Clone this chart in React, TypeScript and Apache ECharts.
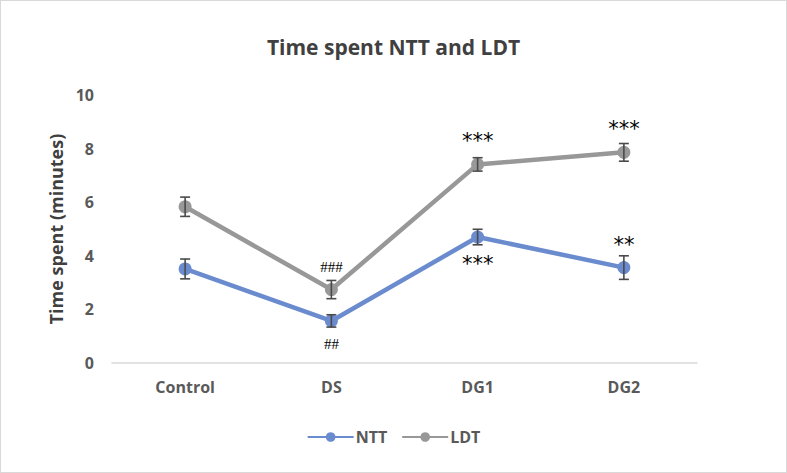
import React, { useEffect, useRef } from "react";
import * as echarts from "echarts";

const categories = ["Control", "DS", "DG1", "DG2"];
const nttValues = [3.51, 1.57, 4.7, 3.56];
const nttErrors = [0.37, 0.23, 0.29, 0.44];
const ldtValues = [5.83, 2.74, 7.41, 7.86];
const ldtErrors = [0.36, 0.34, 0.25, 0.33];
const nttMarks = ["", "##", "***", "**"];
const nttMarkSide = ["", "bottom", "bottom", "top"];
const ldtMarks = ["", "###", "***", "***"];
const ldtMarkSide = ["", "top", "top", "top"];
const yTicks = [0, 2, 4, 6, 8, 10];

const NTT_COLOR = "#6b8bcf";
const LDT_COLOR = "#989898";
const ERR_COLOR = "#4a4a4a";
const TEXT_COLOR = "#595959";
const FONT = "'Open Sans', 'Liberation Sans', sans-serif";

function buildData(values: number[], marks: string[], sides: string[]) {
  return values.map((v, i) => {
    if (!marks[i]) return { value: v };
    const isStar = marks[i].indexOf("*") >= 0;
    return {
      value: v,
      label: {
        show: true,
        position: sides[i],
        distance: isStar ? (sides[i] === "top" ? 6 : 10) : 9,
        formatter: marks[i],
        fontFamily: isStar ? "'DejaVu Sans', sans-serif" : "'Liberation Serif', serif",
        fontSize: isStar ? 21 : 15,
        color: "#000",
      },
    };
  });
}

function errorSeries(values: number[], errors: number[]) {
  return {
    type: "custom",
    z: 5,
    silent: true,
    data: values.map((v, i) => [i, v - errors[i], v + errors[i]]),
    renderItem: (params: any, api: any) => {
      const lo = api.coord([api.value(0), api.value(1)]);
      const hi = api.coord([api.value(0), api.value(2)]);
      const w = 5;
      const style = { stroke: ERR_COLOR, lineWidth: 1.6 };
      return {
        type: "group",
        children: [
          { type: "line", shape: { x1: lo[0], y1: lo[1], x2: hi[0], y2: hi[1] }, style },
          { type: "line", shape: { x1: lo[0] - w, y1: lo[1], x2: lo[0] + w, y2: lo[1] }, style },
          { type: "line", shape: { x1: hi[0] - w, y1: hi[1], x2: hi[0] + w, y2: hi[1] }, style },
        ],
      };
    },
  };
}

export default function App() {
  const ref = useRef<HTMLDivElement>(null);
  useEffect(() => {
    document.body.style.margin = "0";
    const chart = echarts.init(ref.current!, null, { renderer: "svg" });
    chart.setOption({
      animation: false,
      backgroundColor: "#fff",
      title: {
        text: "Time spent NTT and LDT",
        left: "center",
        top: 30,
        textStyle: { fontFamily: FONT, fontSize: 21, fontWeight: "bold", color: "#404040" },
      },
      legend: {
        bottom: 22,
        left: "center",
        itemWidth: 46,
        itemHeight: 12,
        itemGap: 14,
        data: ["NTT", "LDT"],
        textStyle: { fontFamily: FONT, fontSize: 16, fontWeight: "bold", color: TEXT_COLOR, padding: [0, 0, 0, -3] },
      },
      grid: { left: 111, right: 89, top: 94, bottom: 109 },
      xAxis: {
        type: "category",
        data: categories,
        axisLine: { lineStyle: { color: "#d9d9d9", width: 1.5 } },
        axisTick: { show: false },
        axisLabel: { fontFamily: FONT, fontSize: 16, fontWeight: "bold", color: TEXT_COLOR, margin: 16 },
      },
      yAxis: {
        type: "value",
        min: yTicks[0],
        max: yTicks[yTicks.length - 1],
        interval: 2,
        name: "Time spent (minutes)",
        nameLocation: "middle",
        nameGap: 46,
        nameTextStyle: { fontFamily: FONT, fontSize: 18, fontWeight: "bold", color: "#404040" },
        axisLine: { show: false },
        axisTick: { show: false },
        splitLine: { show: false },
        axisLabel: { fontFamily: FONT, fontSize: 16, fontWeight: "bold", color: TEXT_COLOR, margin: 18 },
      },
      series: [
        {
          name: "NTT",
          type: "line",
          data: buildData(nttValues, nttMarks, nttMarkSide),
          symbol: "circle",
          symbolSize: 13,
          lineStyle: { color: NTT_COLOR, width: 4.5 },
          itemStyle: { color: NTT_COLOR },
          z: 3,
        },
        {
          name: "LDT",
          type: "line",
          data: buildData(ldtValues, ldtMarks, ldtMarkSide),
          symbol: "circle",
          symbolSize: 13,
          lineStyle: { color: LDT_COLOR, width: 4.5 },
          itemStyle: { color: LDT_COLOR },
          z: 3,
        },
        errorSeries(nttValues, nttErrors),
        errorSeries(ldtValues, ldtErrors),
      ],
    });
    return () => chart.dispose();
  }, []);
  return (
    <div
      ref={ref}
      style={{ width: 785, height: 471, border: "1px solid #d9d9d9", position: "absolute", left: 0, top: 0 }}
    />
  );
}
